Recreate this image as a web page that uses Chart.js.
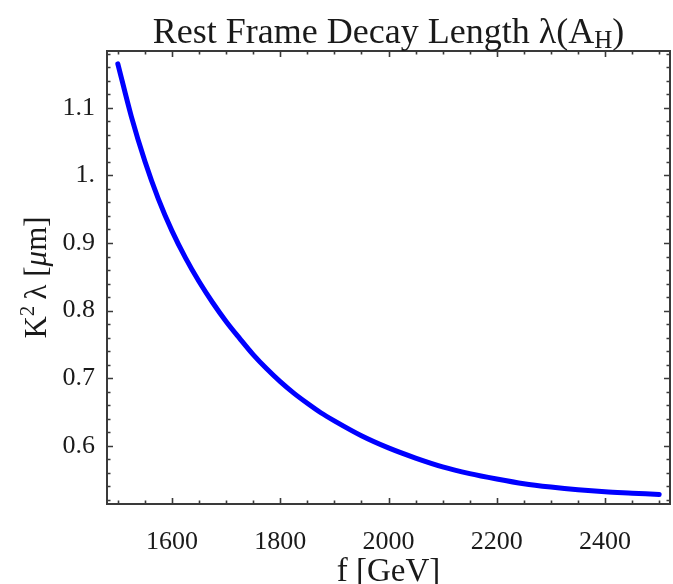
<!DOCTYPE html>
<html>
<head>
<meta charset="utf-8">
<script src="https://cdn.jsdelivr.net/npm/chart.js@4/dist/chart.umd.min.js"></script>
<style>
  html, body { margin: 0; padding: 0; background: #ffffff; }
  #wrap { width: 673px; height: 584px; position: relative; }
</style>
</head>
<body>
<div id="wrap"><canvas id="chart"></canvas></div>
<script>
// f in GeV and the rest-frame decay length K^2 lambda in micrometres
const fGeV = [1500, 1525, 1550, 1575, 1600, 1625, 1650, 1675, 1700, 1725, 1750, 1775, 1800,
              1825, 1850, 1875, 1900, 1950, 2000, 2050, 2100, 2150, 2200, 2250, 2300,
              2350, 2400, 2450, 2500];
const decayLength = [1.165, 1.087, 1.021, 0.965, 0.918, 0.878, 0.843, 0.812, 0.784, 0.759, 0.735, 0.714, 0.695,
                     0.678, 0.663, 0.649, 0.637, 0.615, 0.597, 0.582, 0.569, 0.559, 0.551, 0.544, 0.539,
                     0.535, 0.532, 0.530, 0.528];

// labelled ticks
const xTickValues = [1600, 1800, 2000, 2200, 2400];
const xTickLabels = ['1600', '1800', '2000', '2200', '2400'];
const yTickValues = [0.6, 0.7, 0.8, 0.9, 1.0, 1.1];
const yTickLabels = ['0.6', '0.7', '0.8', '0.9', '1.', '1.1'];

// axis extents
const xRange = [1480, 2520];
const yRange = [0.514, 1.184];

// minor tick spacing
const xMinorStep = 50;
const yMinorStep = 0.02;

const SERIF = '"Liberation Serif", "DejaVu Serif", serif';
const INK = '#1a1a1a';
const FRAME = '#3a3a3a';

function drawRich(ctx, parts, x, y) {
  let total = 0;
  parts.forEach(p => {
    ctx.font = `${p.style || ''} ${p.size}px ${SERIF}`;
    p.w = ctx.measureText(p.t).width;
    total += p.w;
  });
  let cx = x - total / 2;
  parts.forEach(p => {
    ctx.font = `${p.style || ''} ${p.size}px ${SERIF}`;
    ctx.fillText(p.t, cx, y + (p.dy || 0));
    cx += p.w;
  });
}

const frameAndLabels = {
  id: 'frameAndLabels',
  beforeDraw(chart) {
    const { ctx, width, height } = chart;
    ctx.save();
    ctx.fillStyle = '#ffffff';
    ctx.fillRect(0, 0, width, height);
    ctx.restore();
  },
  afterDatasetsDraw(chart) {
    const { ctx, chartArea: { left, right, top, bottom }, scales: { x, y } } = chart;
    ctx.save();
    ctx.strokeStyle = FRAME;
    ctx.lineWidth = 1.6;
    ctx.beginPath();
    // inward ticks on all four sides of the frame
    for (let v = Math.ceil(xRange[0] / xMinorStep) * xMinorStep; v <= xRange[1]; v += xMinorStep) {
      const px = Math.round(x.getPixelForValue(v)) + 0.5;
      const len = xTickValues.includes(v) ? 6 : 3.5;
      ctx.moveTo(px, bottom); ctx.lineTo(px, bottom - len);
      ctx.moveTo(px, top); ctx.lineTo(px, top + len);
    }
    for (let i = Math.ceil(yRange[0] / yMinorStep); i * yMinorStep <= yRange[1] + 1e-9; i++) {
      const v = +(i * yMinorStep).toFixed(2);
      const py = Math.round(y.getPixelForValue(v)) + 0.5;
      const major = yTickValues.some(t => Math.abs(t - v) < 1e-9);
      const len = major ? 6 : 3.5;
      ctx.moveTo(left, py); ctx.lineTo(left + len, py);
      ctx.moveTo(right, py); ctx.lineTo(right - len, py);
    }
    ctx.stroke();
    ctx.lineWidth = 2;
    ctx.strokeRect(left, top, right - left, bottom - top);
    ctx.restore();
  },
  afterDraw(chart) {
    const { ctx, chartArea: { left, right, top, bottom } } = chart;
    const cx = (left + right) / 2;
    ctx.save();
    ctx.fillStyle = INK;
    ctx.textBaseline = 'alphabetic';
    // plot title
    drawRich(ctx, [
      { t: 'Rest Frame Decay Length λ(A', size: 36 },
      { t: 'H', size: 25, dy: 5 },
      { t: ')', size: 36 }
    ], cx, 43);
    // x axis title
    drawRich(ctx, [{ t: 'f [GeV]', size: 33 }], cx, 581);
    // y axis title, rotated
    ctx.translate(46, (top + bottom) / 2);
    ctx.rotate(-Math.PI / 2);
    drawRich(ctx, [
      { t: 'K', size: 31 },
      { t: '2', size: 21, dy: -12 },
      { t: '\u2009λ [', size: 31 },
      { t: 'μ', size: 31, style: 'italic' },
      { t: 'm]', size: 31 }
    ], 0, 0);
    ctx.restore();
  }
};

new Chart(document.getElementById('chart'), {
  type: 'line',
  data: {
    datasets: [{
      data: fGeV.map((f, i) => ({ x: f, y: decayLength[i] })),
      borderColor: '#0000ff',
      borderWidth: 5,
      borderCapStyle: 'round',
      borderJoinStyle: 'round',
      pointRadius: 0,
      fill: false,
      cubicInterpolationMode: 'monotone'
    }]
  },
  options: {
    responsive: true,
    maintainAspectRatio: false,
    devicePixelRatio: 1,
    animation: false,
    events: [],
    layout: { padding: { top: 51, right: 3, left: 0, bottom: 0 } },
    plugins: { legend: { display: false }, title: { display: false }, tooltip: { enabled: false } },
    scales: {
      x: {
        type: 'linear',
        min: xRange[0],
        max: xRange[1],
        border: { display: false },
        grid: { display: false, drawTicks: false },
        afterBuildTicks: s => { s.ticks = xTickValues.map(v => ({ value: v })); },
        afterFit: s => { s.height = 80; },
        ticks: {
          autoSkip: false,
          maxRotation: 0,
          padding: 23,
          color: INK,
          font: { family: SERIF, size: 26 },
          callback: v => xTickLabels[xTickValues.indexOf(v)]
        }
      },
      y: {
        type: 'linear',
        min: yRange[0],
        max: yRange[1],
        border: { display: false },
        grid: { display: false, drawTicks: false },
        afterBuildTicks: s => { s.ticks = yTickValues.map(v => ({ value: v })); },
        afterFit: s => { s.width = 107; },
        ticks: {
          autoSkip: false,
          padding: 12,
          color: INK,
          font: { family: SERIF, size: 26 },
          callback: v => {
            const i = yTickValues.findIndex(t => Math.abs(t - v) < 1e-9);
            return i >= 0 ? yTickLabels[i] : '';
          }
        }
      }
    }
  },
  plugins: [frameAndLabels]
});
</script>
</body>
</html>
